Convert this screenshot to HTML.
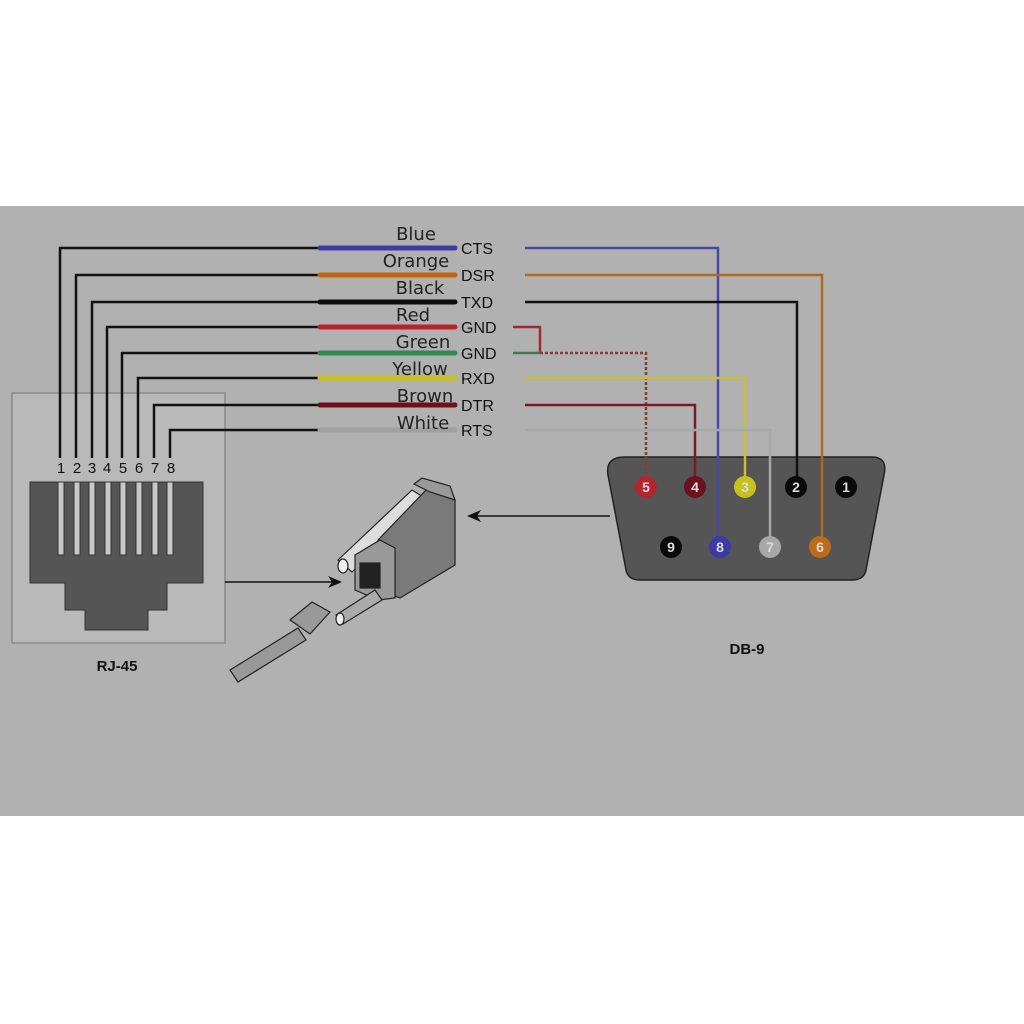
<!DOCTYPE html>
<html><head><style>
body{margin:0;background:#fff;}
svg{display:block;font-family:"Liberation Sans",sans-serif;}
</style></head><body>
<svg width="1024" height="1024" viewBox="0 0 1024 1024">
<rect x="0" y="0" width="1024" height="1024" fill="#fff"/>
<rect x="0" y="206" width="1024" height="610" fill="#b1b1b1"/>
<rect x="12" y="393" width="213" height="250" fill="#b9b9b9" stroke="#8a8a8a" stroke-width="1.5"/>
<path d="M30 482 H203 V583 H167 V610 H148 V630 H85 V610 H65 V583 H30 Z" fill="#555" stroke="#333"/>
<g fill="#c8c8c8" stroke="#333" stroke-width="1">
<rect x="58" y="482" width="6" height="73"/><rect x="74" y="482" width="6" height="73"/><rect x="89" y="482" width="6" height="73"/><rect x="105" y="482" width="6" height="73"/><rect x="120" y="482" width="6" height="73"/><rect x="136" y="482" width="6" height="73"/><rect x="152" y="482" width="6" height="73"/><rect x="167" y="482" width="6" height="73"/>
</g>
<g font-size="15" fill="#111" text-anchor="middle">
<text x="61" y="473">1</text><text x="77" y="473">2</text><text x="92" y="473">3</text><text x="107" y="473">4</text><text x="123" y="473">5</text><text x="139" y="473">6</text><text x="155" y="473">7</text><text x="171" y="473">8</text>
</g>
<g fill="none" stroke="#111" stroke-width="2.5">
<path d="M60 458 V248 H320"/><path d="M76 458 V275 H320"/><path d="M92 458 V302 H320"/><path d="M107 458 V327 H320"/><path d="M122 458 V353 H320"/><path d="M138 458 V378 H320"/><path d="M154 458 V405 H320"/><path d="M170 458 V430 H320"/>
</g>
<g stroke-width="5" stroke-linecap="round">
<line x1="320" y1="248" x2="455" y2="248" stroke="#3c3c9e"/>
<line x1="320" y1="275" x2="455" y2="275" stroke="#c0650f"/>
<line x1="320" y1="302" x2="455" y2="302" stroke="#0d0d0d"/>
<line x1="320" y1="327" x2="455" y2="327" stroke="#b8222a"/>
<line x1="320" y1="353" x2="455" y2="353" stroke="#2f8a4c"/>
<line x1="320" y1="378" x2="455" y2="378" stroke="#c9c21a"/>
<line x1="320" y1="405" x2="455" y2="405" stroke="#6e0f1a"/>
<line x1="320" y1="430" x2="455" y2="430" stroke="#a0a0a0"/>
</g>
<g font-size="18" fill="#222" text-anchor="middle" font-family="'DejaVu Sans',sans-serif">
<text x="416" y="240">Blue</text><text x="416" y="267">Orange</text><text x="420" y="294">Black</text><text x="413" y="321">Red</text><text x="423" y="348">Green</text><text x="420" y="375">Yellow</text><text x="425" y="402">Brown</text><text x="423" y="429">White</text>
</g>
<g font-size="16" fill="#111">
<text x="461" y="254">CTS</text><text x="461" y="281">DSR</text><text x="461" y="308">TXD</text><text x="461" y="333">GND</text><text x="461" y="359">GND</text><text x="461" y="384">RXD</text><text x="461" y="411">DTR</text><text x="461" y="436">RTS</text>
</g>
<path d="M625 457 H872 Q888 457 884 475 L866 570 Q864 580 852 580 H640 Q628 580 626 570 L608 475 Q605 457 625 457 Z" fill="#555" stroke="#222" stroke-width="1.5"/>
<g fill="none" stroke-width="2.5">
<path d="M525 248 H718 V540" stroke="#4848a8"/>
<path d="M525 275 H822 V540" stroke="#b06a20"/>
<path d="M525 302 H797 V480" stroke="#111"/>
<path d="M513 327 H540 V353" stroke="#a02a30"/>
<path d="M513 353 H540" stroke="#3f7a55"/>
<path d="M540 353 H646 V480" stroke="#8a3a30" stroke-dasharray="3 2"/>
<path d="M525 378 H745 V480" stroke="#c8c030"/>
<path d="M525 405 H695 V480" stroke="#7a1a24"/>
<path d="M525 430 H770 V540" stroke="#a8a8a8"/>
</g>
<g font-size="14" font-weight="bold" text-anchor="middle">
<circle cx="646" cy="487" r="11" fill="#b52530"/><text x="646" y="492" fill="#ddd">5</text>
<circle cx="695" cy="487" r="11" fill="#6a1220"/><text x="695" y="492" fill="#ddd">4</text>
<circle cx="745" cy="487" r="11" fill="#c6c21c"/><text x="745" y="492" fill="#ddd">3</text>
<circle cx="796" cy="487" r="11" fill="#0a0a0a"/><text x="796" y="492" fill="#ddd">2</text>
<circle cx="846" cy="487" r="11" fill="#0a0a0a"/><text x="846" y="492" fill="#ddd">1</text>
<circle cx="671" cy="547" r="11" fill="#0a0a0a"/><text x="671" y="552" fill="#ddd">9</text>
<circle cx="720" cy="547" r="11" fill="#3a3aa8"/><text x="720" y="552" fill="#ddd">8</text>
<circle cx="770" cy="547" r="11" fill="#a8a8a8"/><text x="770" y="552" fill="#ddd">7</text>
<circle cx="820" cy="547" r="11" fill="#c06a18"/><text x="820" y="552" fill="#ddd">6</text>
</g>
<line x1="225" y1="582" x2="335" y2="582" stroke="#111" stroke-width="1.5"/>
<path d="M342 582 L328 576 L332 582 L328 588 Z" fill="#111"/>
<line x1="610" y1="516" x2="475" y2="516" stroke="#111" stroke-width="1.5"/>
<path d="M467 516 L481 510 L477 516 L481 522 Z" fill="#111"/>
<g stroke="#222" stroke-width="1.2">
<path d="M338 560 L412 490 L428 500 L352 572 Z" fill="#ddd"/>
<ellipse cx="343" cy="566" rx="5" ry="7" fill="#eee"/>
<path d="M378 540 L430 486 L455 500 L455 565 L400 598 L378 590 Z" fill="#7a7a7a"/>
<path d="M414 484 L422 478 L450 486 L455 500 L430 492 Z" fill="#999"/>
<path d="M355 555 L380 540 L395 548 L395 598 L378 600 L355 590 Z" fill="#999"/>
<rect x="360" y="563" width="20" height="25" fill="#222"/>
<path d="M336 615 L375 590 L382 600 L343 624 Z" fill="#aaa"/>
<ellipse cx="340" cy="619" rx="4" ry="6" fill="#eee"/>
<path d="M290 620 L312 602 L330 612 L310 634 Z" fill="#999"/>
<path d="M230 670 L298 628 L306 640 L238 682 Z" fill="#999"/>
</g>
<text x="117" y="671" font-size="15" font-weight="bold" fill="#111" text-anchor="middle">RJ-45</text>
<text x="747" y="654" font-size="15" font-weight="bold" fill="#111" text-anchor="middle">DB-9</text>
</svg>
</body></html>
